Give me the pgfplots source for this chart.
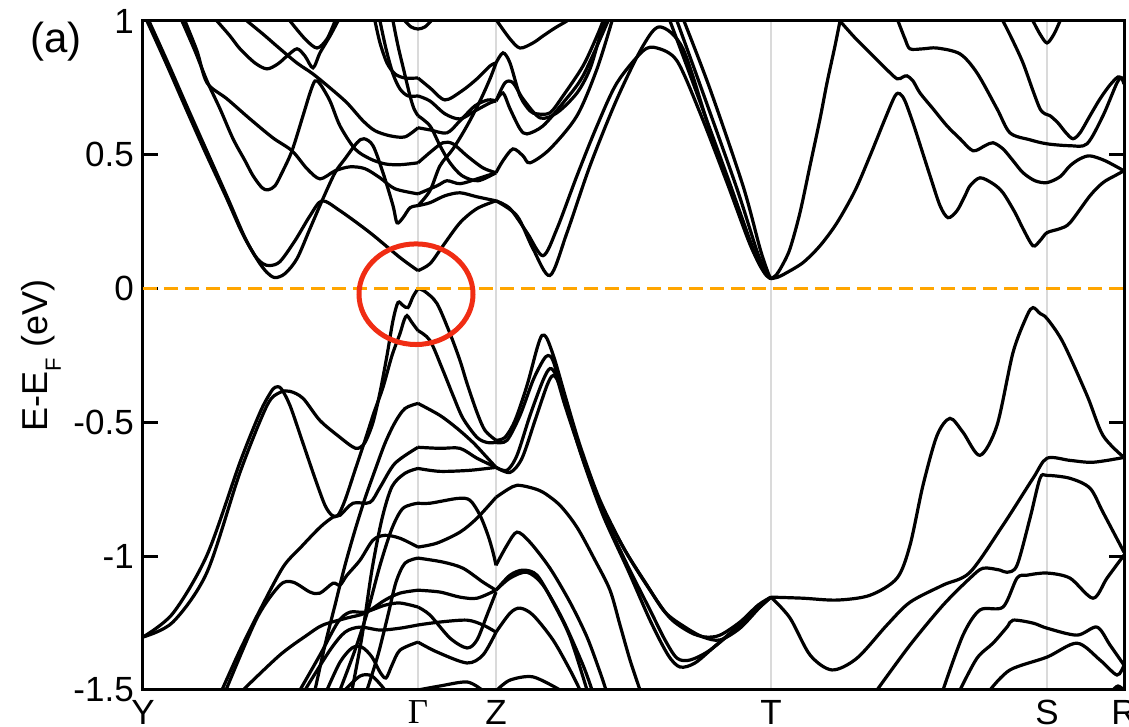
\documentclass[border=0pt]{standalone}
\usepackage{pgfplots}
\pgfplotsset{compat=1.18}
\usepackage{fontspec}
\setmainfont{Liberation Sans}
\newfontfamily\greekserif{Liberation Serif}
\definecolor{fermi}{RGB}{255,165,0}
\definecolor{ring}{RGB}{240,45,20}
\definecolor{kline}{RGB}{218,218,218}

\begin{document}
\begin{tikzpicture}
\begin{axis}[
  name=ax,
  scale only axis, width=981pt, height=669pt,
  xmin=143, xmax=1124, ymin=-1.5, ymax=1,
  axis line style={line width=3pt},
  ytick={-1.5,-1,-0.5,0,0.5,1},
  yticklabels={-1.5,-1,-0.5,0,0.5,1},
  xtick={143,418,496,771,1047,1124},
  xticklabels={Y,{\greekserif Γ},Z,T,S,R},
  tick align=inside,
  major tick length=15pt,
  y tick style={line width=3pt, black},
  x tick style={draw=none},
  xmajorgrids, major x grid style={kline, line width=2.5pt},
  ticklabel style={font=\fontsize{35}{42}\selectfont},
  yticklabel style={inner sep=0pt, xshift=-9pt},
  xticklabel style={inner sep=0pt, yshift=-10pt},
  band/.style={black, line width=3.2pt, smooth, tension=0.5, no markers},
]
% ---------------- conduction bands: Y - Gamma
\addplot[band] coordinates {(147,1.000) (166,0.843) (186,0.672) (206,0.504) (226,0.343) (242,0.209) (255,0.123) (263,0.093) (270,0.086) (280,0.101) (295,0.179) (310,0.272) (322,0.328) (340,0.291) (370,0.209) (400,0.116) (418,0.067)};
\addplot[band] coordinates {(149,1.000) (168,0.843) (188,0.672) (208,0.504) (228,0.336) (245,0.190) (258,0.104) (267,0.060) (275,0.041) (285,0.056) (297,0.112) (310,0.224) (322,0.328) (335,0.433) (345,0.485) (357,0.545) (364,0.560) (373,0.534) (383,0.433) (393,0.310) (397,0.246) (403,0.265) (410,0.302) (418,0.310)};
\addplot[band] coordinates {(182,1.000) (195,0.888) (207,0.776) (220,0.672) (233,0.560) (245,0.478) (253,0.422) (262,0.377) (268,0.369) (275,0.384) (282,0.433) (292,0.515) (303,0.646) (310,0.731) (315,0.776) (320,0.765) (330,0.701) (340,0.608) (355,0.522) (370,0.485) (385,0.466) (400,0.463) (418,0.470)};
\addplot[band] coordinates {(185,1.000) (197,0.888) (207,0.769) (227,0.709) (250,0.634) (273,0.563) (292,0.515) (307,0.448) (320,0.410) (335,0.440) (350,0.455) (365,0.448) (380,0.414) (395,0.373) (418,0.354)};
\addplot[band] coordinates {(217,1.000) (230,0.944) (240,0.896) (255,0.843) (267,0.821) (278,0.840) (287,0.869) (297,0.896) (305,0.869) (313,0.825) (320,0.881) (330,0.944) (338,1.000)};
\addplot[band] coordinates {(247,1.000) (263,0.951) (280,0.896) (297,0.843) (313,0.802) (330,0.750) (347,0.694) (363,0.627) (375,0.590) (390,0.571) (405,0.567) (418,0.601)};
\addplot[band] coordinates {(290,1.000) (305,0.933) (317,0.899) (327,0.933) (335,1.000)};
\addplot[band] coordinates {(375,1.000) (380,0.918) (387,0.843) (395,0.802) (405,0.787) (418,0.787)};
\addplot[band] coordinates {(380,1.000) (386,0.896) (393,0.802) (400,0.746) (408,0.720) (418,0.720)};
\addplot[band] coordinates {(393,1.000) (398,0.907) (404,0.813) (410,0.720) (414,0.672) (418,0.646)};
\addplot[band] coordinates {(405,1.000) (411,0.978) (418,0.970) (425,0.978) (431,1.000)};
% ---------------- conduction bands: Gamma - Z
\addplot[band] coordinates {(418,0.787) (430,0.750) (445,0.705) (462,0.739) (477,0.784) (490,0.832) (496,0.843)};
\addplot[band] coordinates {(418,0.720) (430,0.701) (445,0.653) (460,0.634) (475,0.664) (490,0.694) (496,0.701)};
\addplot[band] coordinates {(418,0.601) (430,0.593) (447,0.582) (460,0.627) (475,0.683) (488,0.705) (496,0.701)};
\addplot[band] coordinates {(418,0.646) (430,0.608) (440,0.534) (450,0.470) (462,0.422) (478,0.403) (496,0.433)};
\addplot[band] coordinates {(418,0.470) (432,0.515) (443,0.545) (453,0.541) (467,0.496) (483,0.451) (496,0.433)};
\addplot[band] coordinates {(418,0.354) (437,0.384) (447,0.403) (460,0.392) (477,0.410) (496,0.433)};
\addplot[band] coordinates {(418,0.310) (430,0.321) (445,0.347) (460,0.358) (477,0.343) (496,0.328)};
\addplot[band] coordinates {(418,0.067) (430,0.093) (443,0.160) (460,0.246) (477,0.299) (496,0.328)};
\addplot[band] coordinates {(418,0.310) (430,0.366) (440,0.459) (453,0.522) (467,0.608) (480,0.701) (490,0.784) (496,0.843)};
% ---------------- conduction bands: Z - T
\addplot[band] coordinates {(497,1.000) (510,0.933) (520,0.899) (533,0.918) (543,0.944) (555,0.974) (567,1.000)};
\addplot[band] coordinates {(496,0.843) (503,0.881) (510,0.843) (520,0.720) (530,0.664) (537,0.653) (550,0.657) (563,0.720) (583,0.832) (597,0.944) (603,1.000)};
\addplot[band] coordinates {(496,0.701) (505,0.769) (513,0.769) (523,0.709) (540,0.638) (557,0.657) (577,0.731) (590,0.821) (600,0.944) (606,1.000)};
\addplot[band] coordinates {(496,0.701) (503,0.731) (510,0.672) (520,0.597) (527,0.578) (543,0.608) (563,0.694) (583,0.795) (608,1.000)};
\addplot[band] coordinates {(496,0.433) (503,0.478) (513,0.522) (523,0.496) (530,0.470) (550,0.522) (577,0.646) (597,0.821) (612,1.000)};
\addplot[band] coordinates {(496,0.328) (510,0.299) (527,0.209) (543,0.123) (557,0.224) (577,0.422) (597,0.608) (617,0.769) (643,0.888) (657,0.899) (677,0.851) (700,0.657) (727,0.396) (750,0.165) (762,0.078) (768,0.045) (771,0.037)};
\addplot[band] coordinates {(496,0.328) (517,0.272) (533,0.149) (550,0.049) (567,0.209) (590,0.459) (617,0.709) (643,0.907) (660,0.978) (683,0.896) (710,0.590) (737,0.310) (755,0.125) (765,0.055) (771,0.037)};
\addplot[band] coordinates {(670,1.000) (693,0.769) (727,0.422) (752,0.160) (763,0.070) (771,0.037)};
\addplot[band] coordinates {(677,1.000) (703,0.731) (737,0.373) (757,0.140) (766,0.062) (771,0.037)};
\addplot[band] coordinates {(684,1.000) (710,0.746) (743,0.384) (760,0.150) (768,0.060) (771,0.037)};
% ---------------- conduction bands: T - S - R
\addplot[band] coordinates {(771,0.037) (776,0.050) (782,0.085) (790,0.149) (800,0.284) (810,0.459) (820,0.634) (827,0.769) (835,0.907) (840,1.000)};
\addplot[band] coordinates {(771,0.037) (778,0.043) (786,0.058) (803,0.097) (820,0.160) (837,0.246) (855,0.366) (870,0.496) (885,0.634) (895,0.720) (900,0.728) (905,0.701) (913,0.619) (922,0.515) (930,0.422) (940,0.310) (948,0.265) (957,0.291) (965,0.347) (970,0.384) (980,0.414) (993,0.392) (1003,0.358) (1015,0.284) (1023,0.224) (1033,0.160) (1040,0.179) (1047,0.209) (1060,0.224) (1070,0.246) (1090,0.347) (1103,0.396) (1115,0.422) (1124,0.440)};
\addplot[band] coordinates {(840,1.000) (855,0.937) (870,0.881) (885,0.825) (897,0.784) (903,0.791) (907,0.795) (913,0.776) (920,0.731) (933,0.672) (947,0.608) (960,0.560) (973,0.515) (985,0.534) (993,0.545) (1003,0.522) (1013,0.478) (1023,0.433) (1035,0.403) (1047,0.396) (1060,0.418) (1070,0.459) (1080,0.485) (1090,0.496) (1105,0.478) (1124,0.440)};
\addplot[band] coordinates {(898,1.000) (905,0.933) (910,0.896) (923,0.896) (937,0.899) (960,0.877) (977,0.806) (997,0.672) (1010,0.582) (1030,0.556) (1047,0.541) (1070,0.534) (1087,0.541) (1103,0.646) (1117,0.769) (1122,0.787) (1124,0.765)};
\addplot[band] coordinates {(1003,1.000) (1013,0.925) (1023,0.843) (1033,0.739) (1040,0.672) (1045,0.653) (1050,0.646) (1058,0.619) (1066,0.582) (1073,0.560) (1080,0.582) (1090,0.646) (1100,0.709) (1110,0.761) (1118,0.791) (1122,0.784) (1124,0.765)};
\addplot[band] coordinates {(1033,1.000) (1040,0.951) (1047,0.918) (1054,0.951) (1060,1.000)};
% ---------------- valence bands: Y - Gamma
\addplot[band] coordinates {(143,-1.302) (173,-1.213) (207,-0.996) (240,-0.649) (260,-0.463) (270,-0.392) (275,-0.369) (281,-0.373) (290,-0.437) (302,-0.567) (315,-0.709) (325,-0.810) (332,-0.847) (338,-0.847) (345,-0.791) (355,-0.679) (365,-0.567) (374,-0.463) (383,-0.369) (392,-0.250) (400,-0.168) (404,-0.119) (407,-0.101) (412,-0.127) (418,-0.157)};
\addplot[band] coordinates {(143,-1.302) (173,-1.246) (207,-1.060) (240,-0.687) (267,-0.437) (280,-0.388) (290,-0.384) (303,-0.410) (320,-0.493) (340,-0.556) (352,-0.590) (358,-0.597) (365,-0.575) (373,-0.500) (380,-0.388) (387,-0.250) (393,-0.119) (398,-0.052) (403,-0.063) (408,-0.071) (413,-0.030) (418,0.000)};
\addplot[band] coordinates {(222,-1.500) (240,-1.351) (260,-1.201) (283,-1.041) (300,-0.970) (320,-0.892) (333,-0.854) (340,-0.847) (353,-0.802) (370,-0.799) (380,-0.743) (395,-0.653) (418,-0.593)};
\addplot[band] coordinates {(226,-1.500) (257,-1.231) (280,-1.108) (293,-1.097) (310,-1.134) (320,-1.138) (333,-1.101) (340,-1.108) (347,-1.071) (360,-1.015) (373,-0.940) (385,-0.922) (400,-0.933) (418,-0.966)};
\addplot[band] coordinates {(243,-1.500) (280,-1.369) (307,-1.295) (323,-1.257) (347,-1.231) (365,-1.213) (385,-1.164) (400,-1.138) (418,-1.127)};
\addplot[band] coordinates {(300,-1.500) (320,-1.369) (338,-1.246) (350,-1.209) (365,-1.209) (385,-1.183) (400,-1.175) (418,-1.190)};
\addplot[band] coordinates {(305,-1.500) (330,-1.351) (345,-1.284) (360,-1.265) (380,-1.276) (400,-1.269) (418,-1.257)};
\addplot[band] coordinates {(327,-1.500) (340,-1.396) (352,-1.343) (362,-1.340) (372,-1.377) (380,-1.433) (386,-1.455) (392,-1.407) (400,-1.351) (418,-1.321)};
\addplot[band] coordinates {(345,-1.500) (360,-1.448) (372,-1.448) (385,-1.500)};
\addplot[band] coordinates {(340,-1.500) (355,-1.351) (368,-1.201) (380,-1.034) (392,-0.896) (403,-0.821) (418,-0.802)};
\addplot[band] coordinates {(352,-1.500) (362,-1.300) (372,-1.050) (382,-0.860) (392,-0.740) (405,-0.690) (418,-0.672)};
\addplot[band] coordinates {(367,-1.500) (378,-1.369) (388,-1.220) (396,-1.097) (405,-1.026) (418,-1.007)};
\addplot[band] coordinates {(315,-1.500) (325,-1.332) (335,-1.183) (345,-1.034) (355,-0.903) (365,-0.784) (375,-0.679) (385,-0.578) (395,-0.500) (405,-0.448) (418,-0.429)};
% ---------------- valence bands: Gamma - Z
\addplot[band] coordinates {(418,0.000) (425,-0.011) (437,-0.056) (450,-0.168) (460,-0.269) (467,-0.354) (477,-0.463) (485,-0.530) (496,-0.567)};
\addplot[band] coordinates {(418,-0.157) (430,-0.194) (443,-0.306) (453,-0.399) (463,-0.485) (477,-0.556) (487,-0.575) (496,-0.575)};
\addplot[band] coordinates {(418,-0.429) (440,-0.474) (457,-0.522) (473,-0.575) (485,-0.623) (496,-0.668)};
\addplot[band] coordinates {(418,-0.593) (440,-0.597) (460,-0.597) (477,-0.634) (496,-0.668)};
\addplot[band] coordinates {(418,-0.672) (440,-0.683) (470,-0.679) (496,-0.668)};
\addplot[band] coordinates {(418,-0.802) (430,-0.802) (458,-0.784) (470,-0.791) (480,-0.847) (488,-0.922) (493,-0.985) (496,-1.034)};
\addplot[band] coordinates {(418,-0.966) (437,-0.951) (460,-0.910) (477,-0.858) (496,-0.780)};
\addplot[band] coordinates {(418,-1.007) (443,-1.022) (463,-1.045) (483,-1.097) (496,-1.127)};
\addplot[band] coordinates {(418,-1.127) (440,-1.134) (460,-1.153) (477,-1.157) (496,-1.127)};
\addplot[band] coordinates {(418,-1.190) (430,-1.220) (450,-1.306) (467,-1.343) (477,-1.313) (487,-1.220) (496,-1.134)};
\addplot[band] coordinates {(418,-1.257) (440,-1.246) (467,-1.239) (483,-1.257) (496,-1.284)};
\addplot[band] coordinates {(418,-1.321) (437,-1.358) (467,-1.399) (483,-1.369) (496,-1.284)};
\addplot[band] coordinates {(418,-1.500) (440,-1.485) (467,-1.470) (482,-1.500)};
% ---------------- valence bands: Z - T
\addplot[band] coordinates {(496,-0.567) (505,-0.556) (515,-0.493) (527,-0.362) (537,-0.224) (542,-0.175) (547,-0.187) (555,-0.269) (565,-0.399) (580,-0.586) (600,-0.791) (625,-0.978) (650,-1.127) (670,-1.231) (690,-1.284) (705,-1.302) (720,-1.295) (740,-1.246) (758,-1.183) (771,-1.153)};
\addplot[band] coordinates {(496,-0.575) (507,-0.567) (520,-0.474) (533,-0.343) (543,-0.269) (548,-0.250) (553,-0.269) (562,-0.381) (577,-0.567) (597,-0.772) (622,-0.959) (647,-1.108) (665,-1.209) (685,-1.265) (703,-1.302) (720,-1.313) (740,-1.269) (760,-1.190) (771,-1.153)};
\addplot[band] coordinates {(496,-0.668) (507,-0.679) (517,-0.623) (530,-0.474) (543,-0.343) (550,-0.299) (556,-0.325) (565,-0.437) (580,-0.604) (600,-0.810) (625,-1.015) (650,-1.201) (665,-1.313) (677,-1.381) (690,-1.388) (710,-1.351) (740,-1.257) (760,-1.183) (771,-1.153)};
\addplot[band] coordinates {(496,-0.668) (510,-0.687) (522,-0.634) (535,-0.493) (547,-0.362) (553,-0.325) (559,-0.354) (568,-0.463) (583,-0.642) (603,-0.847) (628,-1.052) (650,-1.239) (668,-1.369) (680,-1.414) (695,-1.399) (715,-1.336) (745,-1.239) (771,-1.153)};
\addplot[band] coordinates {(496,-0.780) (508,-0.750) (517,-0.735) (530,-0.743) (543,-0.761) (560,-0.810) (577,-0.892) (595,-1.015) (610,-1.127) (620,-1.257) (630,-1.388) (640,-1.500)};
\addplot[band] coordinates {(496,-1.034) (507,-0.959) (517,-0.910) (530,-0.948) (550,-1.045) (570,-1.172) (587,-1.302) (600,-1.433) (606,-1.500)};
\addplot[band] coordinates {(496,-1.127) (510,-1.071) (523,-1.052) (537,-1.071) (553,-1.172) (570,-1.302) (587,-1.500)};
\addplot[band] coordinates {(496,-1.127) (510,-1.082) (527,-1.060) (543,-1.108) (563,-1.239) (583,-1.407) (592,-1.500)};
\addplot[band] coordinates {(496,-1.284) (510,-1.213) (520,-1.194) (533,-1.220) (553,-1.313) (570,-1.425) (580,-1.500)};
\addplot[band] coordinates {(497,-1.500) (510,-1.463) (533,-1.451) (560,-1.500)};
% ---------------- valence bands: T - S - R
\addplot[band] coordinates {(771,-1.153) (803,-1.157) (837,-1.164) (870,-1.146) (897,-1.082) (910,-0.959) (923,-0.735) (937,-0.549) (950,-0.485) (963,-0.537) (980,-0.623) (997,-0.511) (1013,-0.239) (1027,-0.101) (1033,-0.071) (1040,-0.093) (1047,-0.112) (1063,-0.201) (1087,-0.399) (1103,-0.549) (1124,-0.631)};
\addplot[band] coordinates {(771,-1.153) (790,-1.231) (810,-1.369) (832,-1.425) (857,-1.381) (887,-1.257) (910,-1.172) (943,-1.108) (970,-1.060) (1003,-0.884) (1033,-0.709) (1047,-0.634) (1070,-0.642) (1093,-0.649) (1124,-0.631)};
\addplot[band] coordinates {(877,-1.500) (910,-1.332) (943,-1.183) (970,-1.082) (983,-1.045) (1000,-1.052) (1007,-1.060) (1017,-1.034) (1030,-0.858) (1040,-0.709) (1047,-0.698) (1070,-0.709) (1090,-0.746) (1103,-0.836) (1124,-0.985)};
\addplot[band] coordinates {(943,-1.500) (963,-1.295) (980,-1.201) (1003,-1.190) (1017,-1.082) (1027,-1.071) (1047,-1.063) (1070,-1.082) (1093,-1.157) (1107,-1.082) (1124,-0.996)};
\addplot[band] coordinates {(960,-1.500) (977,-1.381) (993,-1.325) (1007,-1.265) (1013,-1.239) (1033,-1.250) (1047,-1.269) (1077,-1.295) (1097,-1.265) (1110,-1.332) (1124,-1.407)};
\addplot[band] coordinates {(990,-1.500) (1010,-1.425) (1047,-1.377) (1077,-1.325) (1100,-1.388) (1117,-1.444) (1124,-1.407)};
\addplot[band] coordinates {(1113,-1.500) (1118,-1.485) (1124,-1.500)};
% ---------------- Fermi level and highlighted gap
\addplot[fermi, line width=2.8pt, dash pattern=on 14pt off 7pt] coordinates {(143,0) (1124,0)};
\draw[ring, line width=5pt] (axis cs:416,-0.021) ellipse [x radius=57, y radius=0.188];
\end{axis}
\node[rotate=90, anchor=base, font=\fontsize{36}{40}\selectfont] at ([xshift=-95pt]ax.west) {E-E\raisebox{-13pt}{\fontsize{22}{24}\selectfont F} (eV)};
\node[font=\fontsize{42}{48}\selectfont] at ([shift={(-87pt,-21pt)}]ax.north west) {(a)};
\pgfresetboundingbox
\useasboundingbox ([shift={(-143pt,-37pt)}]ax.south west) rectangle ++(1129pt,727pt);
\end{tikzpicture}
\end{document}
